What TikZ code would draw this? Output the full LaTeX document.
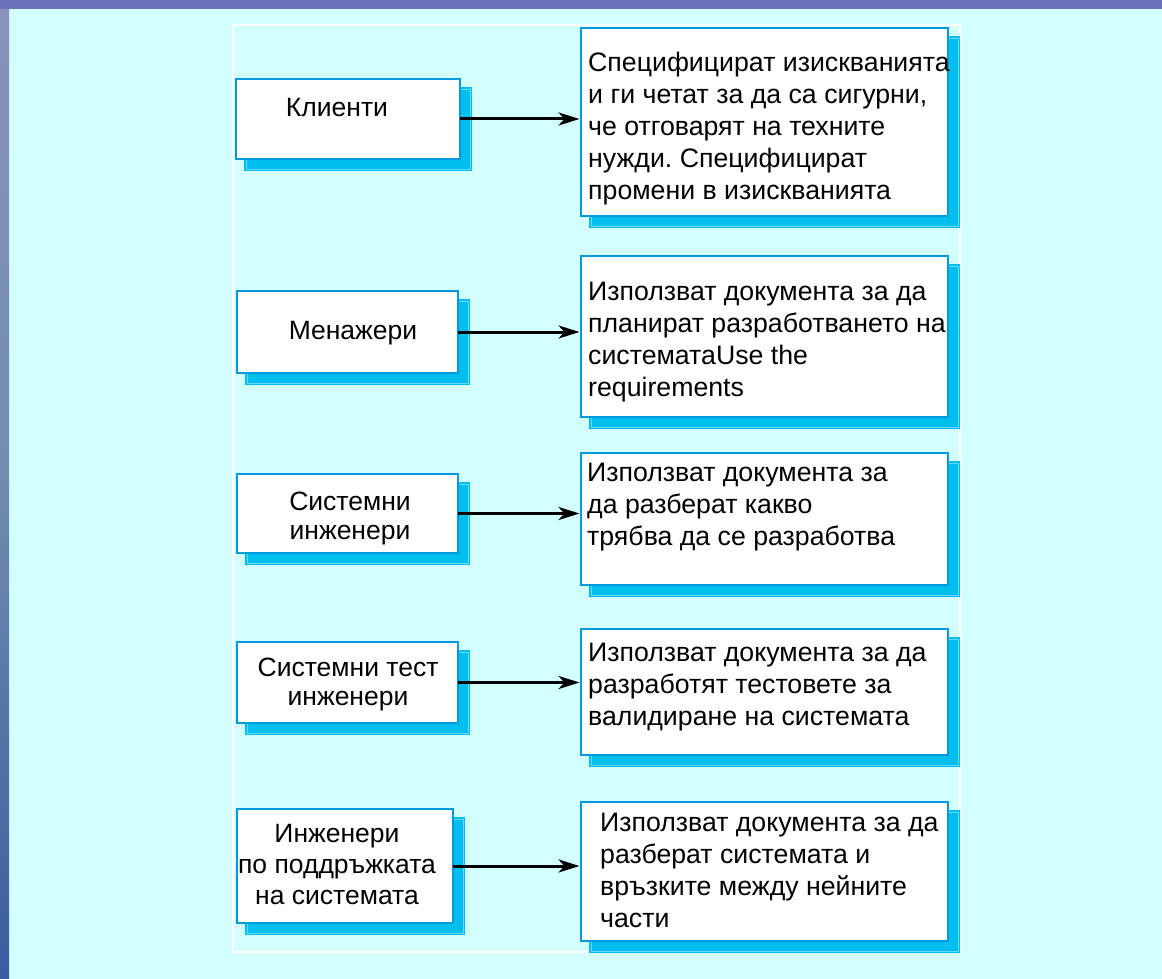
\documentclass[tikz,border=0pt]{standalone}
\usepackage{fontspec}
\setmainfont{Liberation Sans}
\usetikzlibrary{arrows.meta,shadows}
\definecolor{bgc}{HTML}{D4FFFF}
\definecolor{boxc}{HTML}{0099DD}
\definecolor{shadowc}{HTML}{00BEEE}
\definecolor{lightc}{HTML}{66D9F8}
\definecolor{bandtop}{HTML}{6A72BC}
\definecolor{bandA}{HTML}{8A92BC}
\definecolor{bandB}{HTML}{6F8CAE}
\definecolor{bandC}{HTML}{3A5C9E}
\tikzset{
  box/.style={draw=boxc, line width=2.5pt, fill=white, inner sep=0pt, outer sep=0pt, anchor=north west,
    copy shadow={shadow xshift=10pt, shadow yshift=-10pt, fill=shadowc, draw=shadowc,
      double=lightc, double distance=0.7pt, line width=1.6pt}},
  rtext/.style={inner sep=0pt, anchor=base west, font=\fontsize{26.7}{32}\selectfont},
  ltext/.style={inner sep=0pt, anchor=base, font=\fontsize{26.5}{29.5}\selectfont},
  arr/.style={line width=3pt, -{Stealth[length=21pt,width=13pt,inset=6pt]}, shorten >=1.5pt}
}
\newcommand{\rlines}[1]{\begin{tabular}[t]{@{}l@{}}#1\end{tabular}}
\newcommand{\clines}[1]{\begin{tabular}[t]{@{}c@{}}#1\end{tabular}}
\frenchspacing
\begin{document}
\begin{tikzpicture}[x=1pt,y=-1pt]
\useasboundingbox (0,0) rectangle (1162,979);
\fill[bgc] (0,0) rectangle (1162,979);
\shade[top color=bandA, bottom color=bandC, middle color=bandB] (0,0) rectangle (9,979);
\fill[bandtop] (0,0) rectangle (1162,9);
\draw[white, line width=1.2pt] (233,25) rectangle (960,952);

% left boxes
\node[box, minimum width=224pt, minimum height=80pt] (l1) at (236,79) {};
\node[box, minimum width=221pt, minimum height=82pt] (l2) at (237,291) {};
\node[box, minimum width=221pt, minimum height=79pt] (l3) at (237,474) {};
\node[box, minimum width=221pt, minimum height=81pt] (l4) at (237,642) {};
\node[box, minimum width=216pt, minimum height=114pt] (l5) at (237,809) {};
% right boxes
\node[box, minimum width=367pt, minimum height=188pt] (r1) at (581,28) {};
\node[box, minimum width=367pt, minimum height=161pt] (r2) at (581,256) {};
\node[box, minimum width=367pt, minimum height=132pt] (r3) at (581,453) {};
\node[box, minimum width=367pt, minimum height=126pt] (r4) at (581,629) {};
\node[box, minimum width=367pt, minimum height=139pt] (r5) at (581,802) {};

% connectors
\draw[arr] (l1.east) -- (l1.east -| r1.west);
\draw[arr] (l2.east) -- (l2.east -| r2.west);
\draw[arr] (l3.east) -- (l3.east -| r3.west);
\draw[arr] (l4.east) -- (l4.east -| r4.west);
\draw[arr] (l5.east) -- (l5.east -| r5.west);

% left texts
\node[ltext] (t1) at (337,117) {\clines{Клиенти}};
\node[ltext] (t2) at (353,339) {\clines{Менажери}};
\node[ltext] (t3) at (350,510) {\clines{Системни\\инженери}};
\node[ltext] (t4) at (348,676) {\clines{Системни тест\\инженери}};
\node[ltext, font=\fontsize{26.5}{31}\selectfont] (t5) at (337,842) {\clines{Инженери\\по поддръжката\\на системата}};

% right texts
\node[rtext] (u1) at (588,72) {\rlines{Специфицират изискванията\\и ги четат за да са сигурни,\\че отговарят на техните\\нужди. Специфицират\\промени в изискванията}};
\node[rtext] (u2) at (588,300) {\rlines{Използват документа за да\\планират разработването на\\систематаUse the\\requirements}};
\node[rtext] (u3) at (587,481) {\rlines{Използват документа за\\да разберат какво\\трябва да се разработва}};
\node[rtext] (u4) at (588,661) {\rlines{Използват документа за да\\разработят тестовете за\\валидиране на системата}};
\node[rtext] (u5) at (600,831) {\rlines{Използват документа за да\\разберат системата и\\връзките между нейните\\части}};
\end{tikzpicture}
\end{document}
